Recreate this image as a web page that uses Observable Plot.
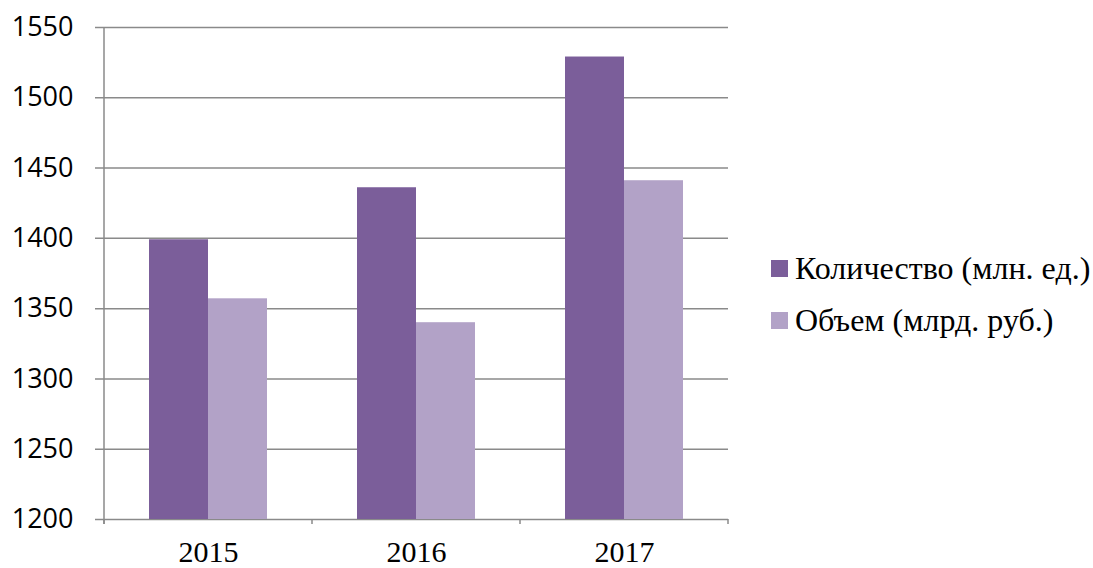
<!DOCTYPE html>
<html>
<head>
<meta charset="utf-8">
<script src="https://cdn.jsdelivr.net/npm/d3@7"></script>
<script src="https://cdn.jsdelivr.net/npm/@observablehq/plot@0.6"></script>
<style>
  html, body { margin: 0; padding: 0; background: #fff; }
  #wrap { position: relative; width: 1093px; height: 568px; }
  #legend { position: absolute; left: 771px; top: 242px; font-family: "Liberation Serif", "Times New Roman", serif; font-size: 32px; color: #000; }
  .item { display: flex; align-items: center; height: 52px; white-space: nowrap; }
  .sw { width: 17px; height: 17px; margin-right: 7px; }
</style>
</head>
<body>
<div id="wrap"><div id="legend"></div></div>
<script>
const years = ["2015", "2016", "2017"];
const seriesNames = ["Количество (млн. ед.)", "Объем (млрд. руб.)"];
const quantity = [1399, 1436, 1529];
const volume = [1357, 1340, 1441];
const yTicks = [1200, 1250, 1300, 1350, 1400, 1450, 1500, 1550];
const colors = ["#7b5e9a", "#b2a2c7"];
const gridColor = "#8a8a8a";

const data = years.flatMap((y, i) => [
  {year: y, series: seriesNames[0], value: quantity[i]},
  {year: y, series: seriesNames[1], value: volume[i]}
]);
const yMin = yTicks[0], yMax = yTicks[yTicks.length - 1];

function axisLines(index, scales) {
  const x = scales.x, y = scales.y;
  const bw = x.bandwidth ? x.bandwidth() : scales.scales.x.bandwidth;
  const g = d3.create("svg:g").attr("stroke", gridColor).attr("stroke-width", 1.5);
  const y0 = y(yMin), y1 = y(yMax);
  const edges = [...years.map(d => x(d)), x(years[years.length - 1]) + bw];
  g.append("line").attr("x1", edges[0]).attr("x2", edges[0]).attr("y1", y1).attr("y2", y0 + 5);
  for (const e of edges) {
    g.append("line").attr("x1", e).attr("x2", e).attr("y1", y0).attr("y2", y0 + 5);
  }
  return g.node();
}

const chart = Plot.plot({
  width: 1093,
  height: 568,
  marginLeft: 104,
  marginRight: 365,
  marginTop: 27,
  marginBottom: 49,
  style: {background: "transparent", overflow: "visible"},
  x: {domain: years, padding: 0, label: null},
  y: {domain: [yMin, yMax], label: null},
  color: {domain: seriesNames, range: colors},
  marks: [
    Plot.ruleY(yTicks, {stroke: gridColor, strokeWidth: 1.5, insetLeft: -9}),
    Plot.barY(data.filter(d => d.series === seriesNames[0]), {x: "year", y1: yMin, y2: "value", fill: "series", insetLeft: 45, insetRight: 104}),
    Plot.barY(data.filter(d => d.series === seriesNames[1]), {x: "year", y1: yMin, y2: "value", fill: "series", insetLeft: 104, insetRight: 45}),
    axisLines,
    Plot.axisY({ticks: yTicks, tickFormat: d3.format("d"), tickSize: 0, tickPadding: 31, fontSize: 27, fontFamily: "'Open Sans', sans-serif", fill: "#000", label: null}),
    Plot.axisX({tickSize: 0, tickPadding: 21, fontSize: 30, fontFamily: "'Liberation Serif', serif", fill: "#000", label: null})
  ]
});
chart.style.position = "absolute";
chart.style.left = "0";
chart.style.top = "0";
document.getElementById("wrap").prepend(chart);

const legend = document.getElementById("legend");
seriesNames.forEach((name, i) => {
  const item = document.createElement("div");
  item.className = "item";
  const sw = document.createElement("div");
  sw.className = "sw";
  sw.style.background = colors[i];
  const label = document.createElement("span");
  label.textContent = name;
  item.append(sw, label);
  legend.append(item);
});
</script>
</body>
</html>
